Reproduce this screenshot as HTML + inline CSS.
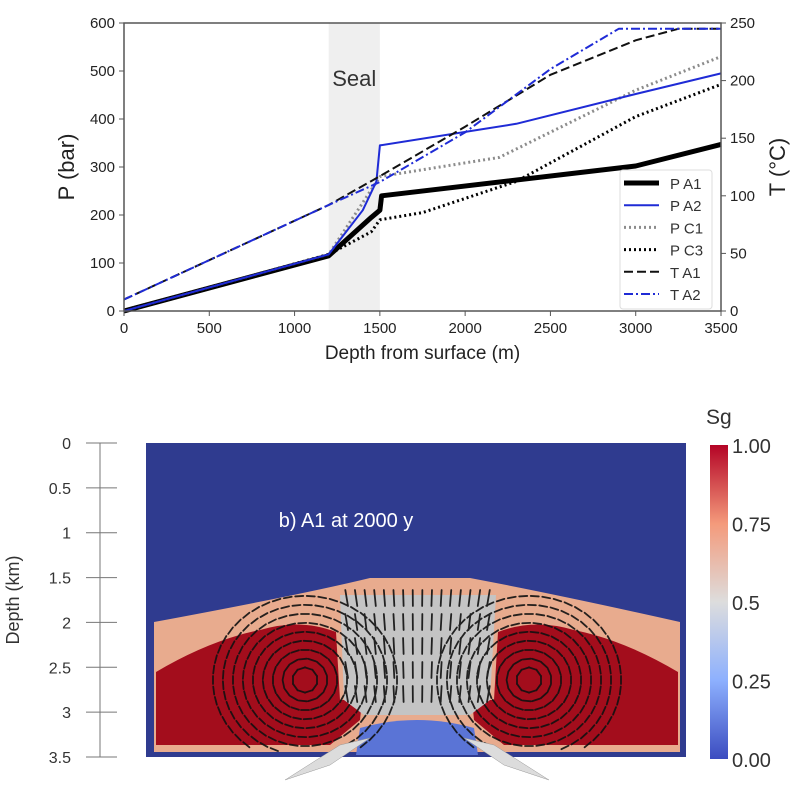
<!DOCTYPE html>
<html><head><meta charset="utf-8">
<style>
html,body{margin:0;padding:0;background:#fff;}
svg{display:block;font-family:"Liberation Sans",sans-serif;}
</style></head>
<body>
<svg id="fig" width="794" height="796" viewBox="0 0 794 796">
<defs>
<linearGradient id="cb" x1="0" y1="1" x2="0" y2="0">
<stop offset="0" stop-color="#3b4cc0"/><stop offset="0.25" stop-color="#8db0fe"/>
<stop offset="0.5" stop-color="#dddddd"/><stop offset="0.75" stop-color="#f49a7b"/>
<stop offset="1" stop-color="#b40426"/>
</linearGradient>
</defs>
<g id="topChart"></g>
<g id="bottomPanel"></g>
</svg>
<script>
const depthP = [0,1200,1450,1500,1510,3000,3500];
const pA1 = [0,115,195,210,240,302,347];
const depthA2 = [0,1200,1400,1480,1500,2300,3000,3500];
const pA2 = [0,118,210,270,345,390,452,495];
const depthC1 = [0,1200,1500,2200,3000,3500];
const pC1 = [0,118,280,320,460,530];
const depthC3 = [0,1200,1450,1500,1750,2300,3000,3500];
const pC3 = [0,118,165,190,205,270,405,472];
const depthTA1 = [0,1200,1500,2000,2500,3000,3250,3500];
const tA1 = [10,92,117,160,205,235,245,245];
const depthTA2 = [0,1200,1500,2000,2500,2900,3500];
const tA2 = [10,92,112,155,210,245,245];
const xTicks = [0,500,1000,1500,2000,2500,3000,3500];
const pTicks = [0,100,200,300,400,500,600];
const tTicks = [0,50,100,150,200,250];
const depthKmTicks = ["0","0.5","1","1.5","2","2.5","3","3.5"];
const sgTicks = ["0.00","0.25","0.5","0.75","1.00"];

const NS="http://www.w3.org/2000/svg";
function mk(tag,attrs,parent,text){const e=document.createElementNS(NS,tag);for(const k in attrs)e.setAttribute(k,attrs[k]);if(text!==undefined)e.textContent=text;parent.appendChild(e);return e;}
const X0=124,X1=721,Y0=311,Y1=23;
const xs=d=>X0+(X1-X0)*d/3500;
const yp=p=>Y0+(Y1-Y0)*p/600;
const yt=t=>Y0+(Y1-Y0)*t/250;
const topG=document.getElementById('topChart');

const seal=mk('rect',{x:xs(1200),y:Y1,width:xs(1500)-xs(1200),height:Y0-Y1,fill:'#efefef'},topG);


const sealT=mk('text',{x:xs(1350),y:86,'text-anchor':'middle','font-size':'22',fill:'#333'},topG,'Seal');



function line(ds,vs,yf,style,name){
  const pts=ds.map((d,i)=>xs(d).toFixed(1)+','+yf(vs[i]).toFixed(1)).join(' ');
  const e=mk('polyline',Object.assign({points:pts,fill:'none','stroke-linejoin':'round'},style),topG);
  
  
}
const sA1={stroke:'#000','stroke-width':5};
const sA2={stroke:'#1f2bd6','stroke-width':2};
const sC1={stroke:'#8c8c8c','stroke-width':3,'stroke-dasharray':'2,3'};
const sC3={stroke:'#000','stroke-width':3,'stroke-dasharray':'2,3'};
const sTA1={stroke:'#111','stroke-width':2,'stroke-dasharray':'9,4'};
const sTA2={stroke:'#1f2bd6','stroke-width':2,'stroke-dasharray':'9,3,2,3'};
line(depthP,pA1,yp,sA1,'series-p-a1');
line(depthC1,pC1,yp,sC1,'series-p-c1');
line(depthC3,pC3,yp,sC3,'series-p-c3');
line(depthA2,pA2,yp,sA2,'series-p-a2');
line(depthTA1,tA1,yt,sTA1,'series-t-a1');
line(depthTA2,tA2,yt,sTA2,'series-t-a2');

const frame=mk('rect',{x:X0,y:Y1,width:X1-X0,height:Y0-Y1,fill:'none',stroke:'#555','stroke-width':1.5},topG);


xTicks.forEach(v=>{
  mk('line',{x1:xs(v),x2:xs(v),y1:Y0,y2:Y0+5,stroke:'#555'},topG);
  const t=mk('text',{x:xs(v),y:Y0+22,'text-anchor':'middle','font-size':'15',fill:'#222'},topG,v);
  
  
});
pTicks.forEach(v=>{
  mk('line',{x1:X0-5,x2:X0,y1:yp(v),y2:yp(v),stroke:'#555'},topG);
  const t=mk('text',{x:X0-9,y:yp(v)+5,'text-anchor':'end','font-size':'15',fill:'#222'},topG,v);
  
  
});
tTicks.forEach(v=>{
  mk('line',{x1:X1,x2:X1+5,y1:yt(v),y2:yt(v),stroke:'#555'},topG);
  const t=mk('text',{x:X1+9,y:yt(v)+5,'text-anchor':'start','font-size':'15',fill:'#222'},topG,v);
  
  
});
const xt=mk('text',{x:(X0+X1)/2,y:359,'text-anchor':'middle','font-size':'19',fill:'#222'},topG,'Depth from surface (m)');


const ypT=mk('text',{x:0,y:0,transform:'translate(74,167) rotate(-90)','text-anchor':'middle','font-size':'22',fill:'#222'},topG,'P (bar)');


const ytT=mk('text',{x:0,y:0,transform:'translate(785,167) rotate(-90)','text-anchor':'middle','font-size':'22',fill:'#222'},topG,'T (°C)');



const lg=mk('g',{},topG);


mk('rect',{x:620,y:170,width:92,height:139,fill:'#fff',stroke:'#ddd',rx:3},lg);
const legNames=['P A1','P A2','P C1','P C3','T A1','T A2'];
const legStyles=[sA1,sA2,sC1,sC3,sTA1,sTA2];
legNames.forEach((n,i)=>{
  const y=183+i*22.2;
  const g=mk('g',{},lg);
  
  
  mk('line',Object.assign({x1:624,x2:659,y1:y,y2:y},legStyles[i]),g);
  mk('text',{x:670,y:y+6,'font-size':'15',fill:'#333'},g,n);
});

const botG=document.getElementById('bottomPanel');
const BY0=443,BY1=757;
const ax=mk('line',{x1:100,x2:100,y1:BY0,y2:BY1,stroke:'#777'},botG);


depthKmTicks.forEach((l,i)=>{
  const y=BY0+(BY1-BY0)*i/7;
  mk('line',{x1:86,x2:117,y1:y,y2:y,stroke:'#777'},botG);
  const t=mk('text',{x:71,y:y+6,'text-anchor':'end','font-size':'16',fill:'#333'},botG,l);
  
  
});
const dk=mk('text',{x:0,y:0,transform:'translate(19,600) rotate(-90)','text-anchor':'middle','font-size':'18',fill:'#333'},botG,'Depth (km)');



const field=mk('g',{},botG);


mk('rect',{x:146,y:BY0,width:540,height:BY1-BY0,fill:'#2f3b8f'},field);
mk('path',{d:'M154 622 Q300 595 370 578 L470 578 Q560 595 680 622 L680 752 L154 752 Z',fill:'#e8ab8e'},field);
mk('path',{d:'M156 672 Q210 640 260 630 Q300 618 336 632 L340 700 L362 700 L360 720 L330 745 L156 745 Z',fill:'#a30d1c'},field);
mk('path',{d:'M678 672 Q624 640 574 630 Q534 618 498 632 L494 700 L472 700 L474 720 L504 745 L678 745 Z',fill:'#a30d1c'},field);
mk('path',{d:'M340 595 L496 595 L490 700 L470 715 L364 715 L344 700 Z',fill:'#c4c4c4'},field);
mk('path',{d:'M360 728 Q417 712 474 728 L478 755 L356 755 Z',fill:'#5a74d6'},field);
const ar=mk('g',{stroke:'#111','stroke-width':1.8,'stroke-linecap':'round',opacity:0.9},field);
[-1,1].forEach(side=>{
  const cx=417+side*112, cy=680;
  for(let k=0;k<9;k++){
    const rx=12+k*10, ry=12+k*9;
    const n=10+k*5;
    for(let j=0;j<n;j++){
      const a=j/n*2*Math.PI;
      const x=cx+rx*Math.cos(a), y=cy+ry*Math.sin(a);
      if(y<586||y>750||x<156||x>678)continue;
      const dx=-Math.sin(a)*4*side, dy=Math.cos(a)*4*side;
      mk('line',{x1:x-dx,y1:y-dy,x2:x+dx,y2:y+dy},ar);
    }
  }
});
for(let i=0;i<80;i++){
  const x=350+(i%16)*9, y=590+Math.floor(i/16)*24;
  mk('line',{x1:x+(x-417)*0.03,y1:y+16,x2:x+(x-417)*0.07,y2:y},ar);
}
const wa=mk('g',{fill:'#dcdcdc',stroke:'#999','stroke-width':0.5},field);
mk('path',{d:'M285 780 L340 745 L370 738 L330 765 Z'},wa);
mk('path',{d:'M549 780 L494 745 L464 738 L504 765 Z'},wa);
const ttl=mk('text',{x:346,y:527,'text-anchor':'middle','font-size':'20',fill:'#fff'},botG,'b) A1 at 2000 y');



const cbar=mk('rect',{x:710,y:445,width:18,height:314,fill:'url(#cb)'},botG);


sgTicks.forEach((l,i)=>{
  const y=759-314*i/4;
  const t=mk('text',{x:732,y:y+8,'font-size':'20',fill:'#333'},botG,l);
  
  
});
const sg=mk('text',{x:706,y:424,'font-size':'21',fill:'#333'},botG,'Sg');


</script>
</body></html>
